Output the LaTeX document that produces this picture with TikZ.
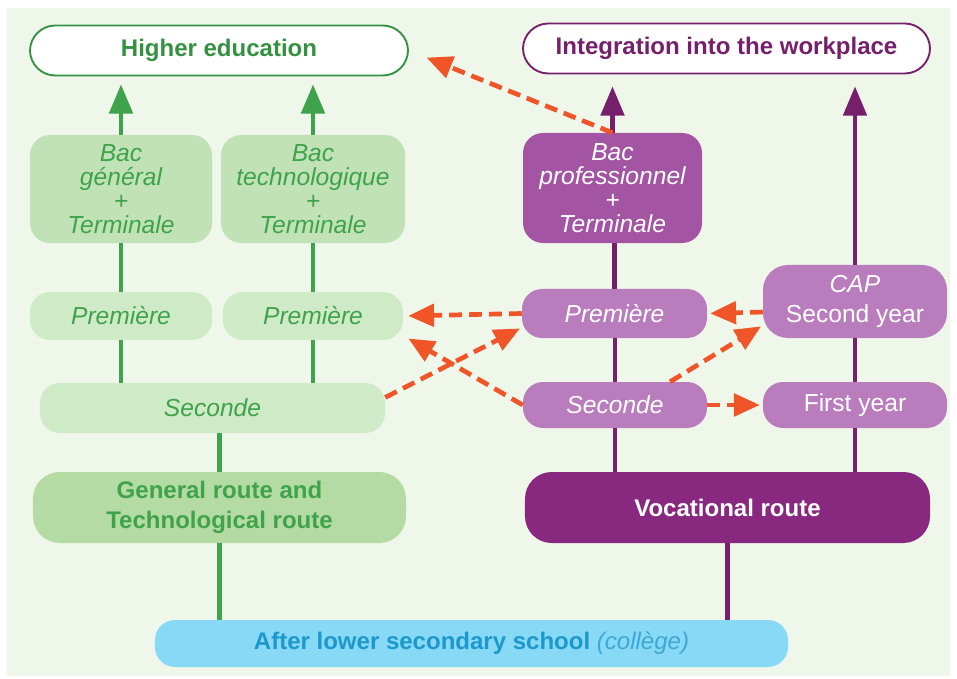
\documentclass[tikz,border=0pt]{standalone}
\usepackage{fontspec}
\setmainfont{Liberation Sans}
\usetikzlibrary{arrows.meta}
\definecolor{paper}{RGB}{239,247,235}
\definecolor{leaf}{RGB}{62,163,74}
\definecolor{darkleaf}{RGB}{52,145,66}
\definecolor{plum}{RGB}{118,32,108}
\definecolor{flame}{RGB}{240,85,40}
\definecolor{ink}{RGB}{28,152,205}
\definecolor{sky}{RGB}{135,217,246}
\definecolor{bacgreen}{RGB}{193,226,183}
\definecolor{premgreen}{RGB}{207,234,198}
\definecolor{routegreen}{RGB}{181,219,164}
\definecolor{bacplum}{RGB}{163,84,163}
\definecolor{liteplum}{RGB}{185,125,190}
\definecolor{vocplum}{RGB}{136,40,126}
\colorlet{paleink}{ink!85!white}
\tikzset{
    every node/.style={align=center, inner sep=0pt},
    goal/.style={rectangle, rounded corners=0.76cm, fill=white, line width=1.6pt, minimum height=1.5cm, font=\bfseries\fontsize{20.5}{24}\selectfont},
    grn/.style={rectangle, rounded corners=0.6cm, text=leaf, font=\itshape\fontsize{21}{20.5}\selectfont},
    prp/.style={rectangle, rounded corners=0.6cm, text=white, font=\itshape\fontsize{21}{20.5}\selectfont},
    route/.style={rectangle, rounded corners=0.8cm, minimum height=2.13cm, font=\bfseries\fontsize{20.5}{26}\selectfont},
    gline/.style={leaf, line width=3.5pt},
    pline/.style={plum, line width=3.5pt},
    rise/.style={-{Triangle[length=25pt,width=20pt]}},
    hop/.style={flame, line width=4pt, dash pattern=on 11pt off 6pt, -{Triangle[length=22pt,width=19pt]}}
}

\begin{document}
\begin{tikzpicture}[x=0.03cm,y=-0.03cm]
\useasboundingbox (0,0) rectangle (957,679);
\fill[paper] (7,8) rectangle (950,676);

\node[goal,draw=darkleaf,text=darkleaf,minimum width=11.34cm] at (219,50.5) (hed) {Higher education};
\node[goal,draw=plum,text=plum,minimum width=12.21cm] at (726.5,48.5) (work) {Integration into the workplace};

\node[grn,fill=bacgreen,minimum width=5.46cm,minimum height=3.24cm] at (121,189) (bacg) {Bac\\général\\+\\Terminale};
\node[grn,fill=bacgreen,minimum width=5.52cm,minimum height=3.24cm] at (313,189) (bact) {Bac\\technologique\\+\\Terminale};
\node[grn,fill=premgreen,minimum width=5.46cm,minimum height=1.44cm] at (121,316) (premg) {Première};
\node[grn,fill=premgreen,minimum width=5.4cm,minimum height=1.44cm] at (313,316) (premt) {Première};
\node[grn,fill=premgreen,minimum width=10.35cm,minimum height=1.5cm] at (212.5,408) (sec) {Seconde};
\node[route,fill=routegreen,text=leaf,minimum width=11.19cm] at (219.5,507.5) (genr) {General route and\\Technological route};

\node[prp,fill=bacplum,minimum width=5.37cm,minimum height=3.3cm] at (612.5,188) (bacp) {Bac\\professionnel\\+\\Terminale};
\node[prp,fill=liteplum,minimum width=5.55cm,minimum height=1.47cm] at (614.5,313.5) (premp) {Première};
\node[prp,fill=liteplum,minimum width=5.52cm,minimum height=1.38cm] at (615,405) (secp) {Seconde};
\node[prp,fill=liteplum,rounded corners=0.75cm,minimum width=5.52cm,minimum height=2.19cm,font=\upshape\fontsize{21}{26}\selectfont] at (855,301.5) (cap) {\textit{CAP}\\Second year};
\node[prp,fill=liteplum,minimum width=5.52cm,minimum height=1.38cm,font=\upshape\fontsize{21}{24}\selectfont] at (855,405) (first) {First year};
\node[route,fill=vocplum,text=white,minimum width=12.15cm] at (727.5,507.5) (voc) {Vocational route};

\node[rectangle,rounded corners=0.6cm,fill=sky,text=ink,minimum width=18.99cm,minimum height=1.41cm,font=\bfseries\fontsize{20.5}{24}\selectfont] at (471.5,643.5) (after) {After lower secondary school \textcolor{paleink}{\mdseries\itshape(collège)}};

\draw [gline] (genr.south |- after.north) -- (genr.south);
\draw [gline] (genr.north) -- (genr.north |- sec.south);
\draw [gline] (premg.south |- sec.north) -- (premg.south);
\draw [gline] (premt.south |- sec.north) -- (premt.south);
\draw [gline] (premg.north) -- (bacg.south);
\draw [gline] (premt.north) -- (bact.south);
\draw [gline,rise,shorten >=0.24cm] (bacg.north) -- (bacg.north |- hed.south);
\draw [gline,rise,shorten >=0.24cm] (bact.north) -- (bact.north |- hed.south);

\draw [pline] (voc.south |- after.north) -- (voc.south);
\draw [pline] (voc.north -| secp.south) -- (secp.south);
\draw [pline] (secp.north) -- (secp.north |- premp.south);
\draw [pline] (premp.north) -- (premp.north |- bacp.south);
\draw [pline,rise,shorten >=0.36cm] (bacp.north) -- (bacp.north |- work.south);
\draw [pline] (voc.north -| first.south) -- (first.south);
\draw [pline] (first.north) -- (first.north |- cap.south);
\draw [pline,rise,shorten >=0.36cm] (cap.north) -- (cap.north |- work.south);

\draw [hop,shorten >=0.57cm] (bacp.north) -- (hed.east);
\draw [hop,shorten >=0.15cm] (premp.west) -- (premt.east);
\draw [hop,shorten >=0.06cm] ([yshift=9pt]sec.east) -- ([yshift=-12pt]premp.west);
\draw [hop,shorten >=0.18cm] (secp.west) -- ([yshift=4pt]premt.south east);
\draw [hop,shorten >=0.09cm] ([yshift=-9pt]cap.west) -- (premp.east);
\draw [hop,shorten >=0.06cm] ([xshift=47pt]secp.north) -- ([yshift=11pt]cap.south west);
\draw [hop,shorten >=0.09cm] (secp.east) -- (first.west);
\end{tikzpicture}
\end{document}
